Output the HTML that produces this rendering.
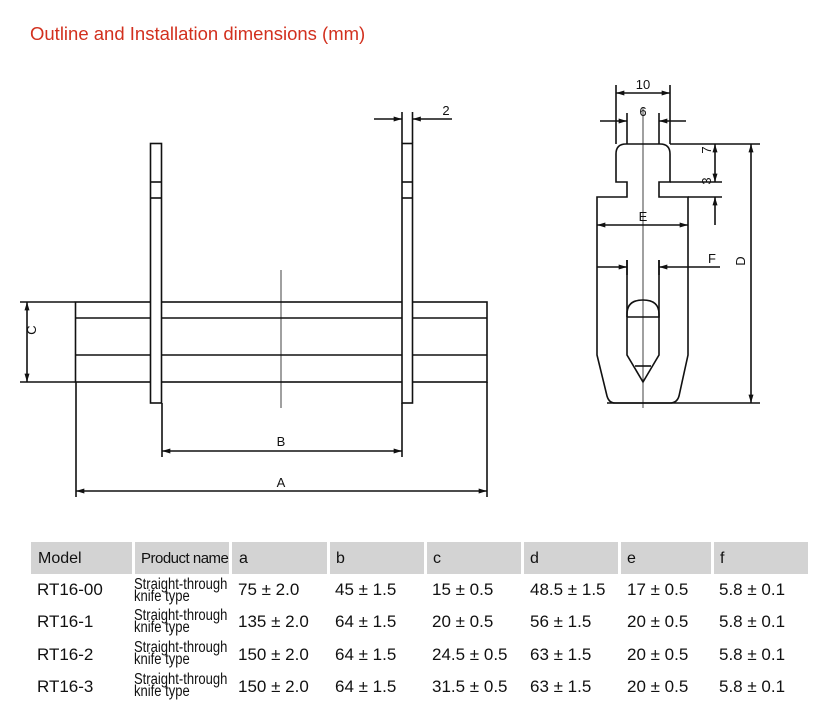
<!DOCTYPE html>
<html><head><style>
body{margin:0;width:816px;height:720px;background:#fff;position:relative;font-family:"Liberation Sans",sans-serif;overflow:hidden}
.t{position:absolute;left:30px;top:23px;color:#d2301e;font-size:18.5px}
.h{position:absolute;top:542px;height:32px;background:#d3d3d3;font-size:16px;line-height:34px;color:#111;white-space:nowrap;overflow:hidden}
.c{position:absolute;font-size:17px;color:#111;white-space:nowrap}
.p{position:absolute;font-size:15.5px;line-height:12px;color:#111;transform:scaleX(0.84);transform-origin:left top;white-space:nowrap}
</style></head><body>
<div class="t">Outline and Installation dimensions (mm)</div>
<svg width="816" height="520" style="position:absolute;left:0;top:0" font-family="Liberation Sans,sans-serif" font-size="13">
<defs><marker id="a" viewBox="0 0 10 6" refX="10" refY="3" markerWidth="14" markerHeight="5" orient="auto-start-reverse" markerUnits="userSpaceOnUse"><path d="M0,0L10,3L0,6z" fill="#111"/></marker></defs>
<g stroke="#111" stroke-width="1.6" fill="none">
<rect x="75.5" y="302" width="411.5" height="80"/>
<line x1="75.5" y1="318" x2="487" y2="318"/><line x1="75.5" y1="355" x2="487" y2="355"/>
<rect x="150.5" y="143.5" width="11" height="259.5" fill="#fff"/>
<line x1="150.5" y1="182" x2="161.5" y2="182"/><line x1="150.5" y1="198" x2="161.5" y2="198"/>
<rect x="402" y="143.5" width="10.5" height="259.5" fill="#fff"/>
<line x1="402" y1="182" x2="412.5" y2="182"/><line x1="402" y1="198" x2="412.5" y2="198"/>
<line x1="402" y1="112" x2="402" y2="143"/><line x1="412.5" y1="112" x2="412.5" y2="143"/>
<line x1="281" y1="270" x2="281" y2="408" stroke-width="0.8"/>
<line x1="20" y1="302" x2="75" y2="302"/><line x1="20" y1="382" x2="75" y2="382"/>
<line x1="27" y1="302" x2="27" y2="382" marker-start="url(#a)" marker-end="url(#a)"/>
<line x1="162" y1="403" x2="162" y2="457"/><line x1="402" y1="403" x2="402" y2="457"/>
<line x1="162" y1="451" x2="402" y2="451" marker-start="url(#a)" marker-end="url(#a)"/>
<line x1="76" y1="382" x2="76" y2="497"/><line x1="487" y1="382" x2="487" y2="497"/>
<line x1="76" y1="491" x2="487" y2="491" marker-start="url(#a)" marker-end="url(#a)"/>
<line x1="374" y1="119" x2="402" y2="119" marker-end="url(#a)"/>
<line x1="452" y1="119" x2="412.5" y2="119" marker-end="url(#a)"/>
<path d="M616,182V154Q616,144 626,144H660Q670,144 670,154V182H659V197H688V355L679,396Q677,403 670,403H615Q609,403 607,396L597,355V197H627V182Z"/>
<path d="M627,260V355L643,382L659,355V260"/>
<line x1="635" y1="366" x2="651" y2="366"/>
<path d="M627,317V314Q627,300 643,300Q659,300 659,314V317H627"/>
<line x1="643" y1="107" x2="643" y2="408" stroke-width="0.8"/>
<line x1="616" y1="85" x2="616" y2="144"/><line x1="670" y1="85" x2="670" y2="144"/>
<line x1="616" y1="93" x2="670" y2="93" marker-start="url(#a)" marker-end="url(#a)"/>
<line x1="627" y1="113" x2="627" y2="144"/><line x1="659" y1="113" x2="659" y2="144"/>
<line x1="600" y1="121" x2="627" y2="121" marker-end="url(#a)"/>
<line x1="686" y1="121" x2="659" y2="121" marker-end="url(#a)"/>
<line x1="670" y1="144" x2="760" y2="144"/><line x1="670" y1="182" x2="722" y2="182"/><line x1="688" y1="197" x2="722" y2="197"/>
<line x1="607" y1="403" x2="760" y2="403"/>
<line x1="715" y1="144" x2="715" y2="182" marker-start="url(#a)" marker-end="url(#a)"/>
<line x1="715" y1="225" x2="715" y2="197" marker-end="url(#a)"/>
<line x1="751" y1="144" x2="751" y2="403" marker-start="url(#a)" marker-end="url(#a)"/>
<line x1="597" y1="225" x2="688" y2="225" marker-start="url(#a)" marker-end="url(#a)"/>
<line x1="627" y1="260" x2="627" y2="275"/><line x1="659" y1="260" x2="659" y2="275"/>
<line x1="597" y1="267" x2="627" y2="267" marker-end="url(#a)"/>
<line x1="720" y1="267" x2="659" y2="267" marker-end="url(#a)"/>
</g>
<g fill="#111" text-anchor="middle">
<text x="281" y="446">B</text><text x="281" y="487">A</text><text x="446" y="115">2</text>
<text transform="translate(36,330) rotate(-90)">C</text>
<text x="643" y="89">10</text><text x="643" y="116">6</text>
<text x="643" y="221">E</text><text x="712" y="263">F</text>
<text transform="translate(711,150) rotate(-90)">7</text>
<text transform="translate(711,181) rotate(-90)">3</text>
<text transform="translate(745,261) rotate(-90)">D</text>
</g>
</svg>
<div class="h" style="left:31px;width:101px;padding-left:7px;box-sizing:border-box">Model</div>
<div class="h" style="left:135px;width:94px;padding-left:6px;box-sizing:border-box;font-size:15px;letter-spacing:-0.5px">Product name</div>
<div class="h" style="left:232px;width:95px;padding-left:7px;box-sizing:border-box">a</div>
<div class="h" style="left:330px;width:94px;padding-left:6px;box-sizing:border-box">b</div>
<div class="h" style="left:427px;width:94px;padding-left:6px;box-sizing:border-box">c</div>
<div class="h" style="left:524px;width:94px;padding-left:6px;box-sizing:border-box">d</div>
<div class="h" style="left:621px;width:90px;padding-left:6px;box-sizing:border-box">e</div>
<div class="h" style="left:714px;width:94px;padding-left:6px;box-sizing:border-box">f</div>

<div class="c" style="left:37px;top:580px">RT16-00</div>
<div class="p" style="left:134px;top:579px">Straight-through<br>knife type</div>
<div class="c" style="left:238px;top:580px">75 ± 2.0</div><div class="c" style="left:335px;top:580px">45 ± 1.5</div>
<div class="c" style="left:432px;top:580px">15 ± 0.5</div><div class="c" style="left:530px;top:580px">48.5 ± 1.5</div>
<div class="c" style="left:627px;top:580px">17 ± 0.5</div><div class="c" style="left:719px;top:580px">5.8 ± 0.1</div>

<div class="c" style="left:37px;top:612px">RT16-1</div>
<div class="p" style="left:134px;top:610px">Straight-through<br>knife type</div>
<div class="c" style="left:238px;top:612px">135 ± 2.0</div><div class="c" style="left:335px;top:612px">64 ± 1.5</div>
<div class="c" style="left:432px;top:612px">20 ± 0.5</div><div class="c" style="left:530px;top:612px">56 ± 1.5</div>
<div class="c" style="left:627px;top:612px">20 ± 0.5</div><div class="c" style="left:719px;top:612px">5.8 ± 0.1</div>

<div class="c" style="left:37px;top:645px">RT16-2</div>
<div class="p" style="left:134px;top:642px">Straight-through<br>knife type</div>
<div class="c" style="left:238px;top:645px">150 ± 2.0</div><div class="c" style="left:335px;top:645px">64 ± 1.5</div>
<div class="c" style="left:432px;top:645px">24.5 ± 0.5</div><div class="c" style="left:530px;top:645px">63 ± 1.5</div>
<div class="c" style="left:627px;top:645px">20 ± 0.5</div><div class="c" style="left:719px;top:645px">5.8 ± 0.1</div>

<div class="c" style="left:37px;top:677px">RT16-3</div>
<div class="p" style="left:134px;top:674px">Straight-through<br>knife type</div>
<div class="c" style="left:238px;top:677px">150 ± 2.0</div><div class="c" style="left:335px;top:677px">64 ± 1.5</div>
<div class="c" style="left:432px;top:677px">31.5 ± 0.5</div><div class="c" style="left:530px;top:677px">63 ± 1.5</div>
<div class="c" style="left:627px;top:677px">20 ± 0.5</div><div class="c" style="left:719px;top:677px">5.8 ± 0.1</div>
</body></html>
